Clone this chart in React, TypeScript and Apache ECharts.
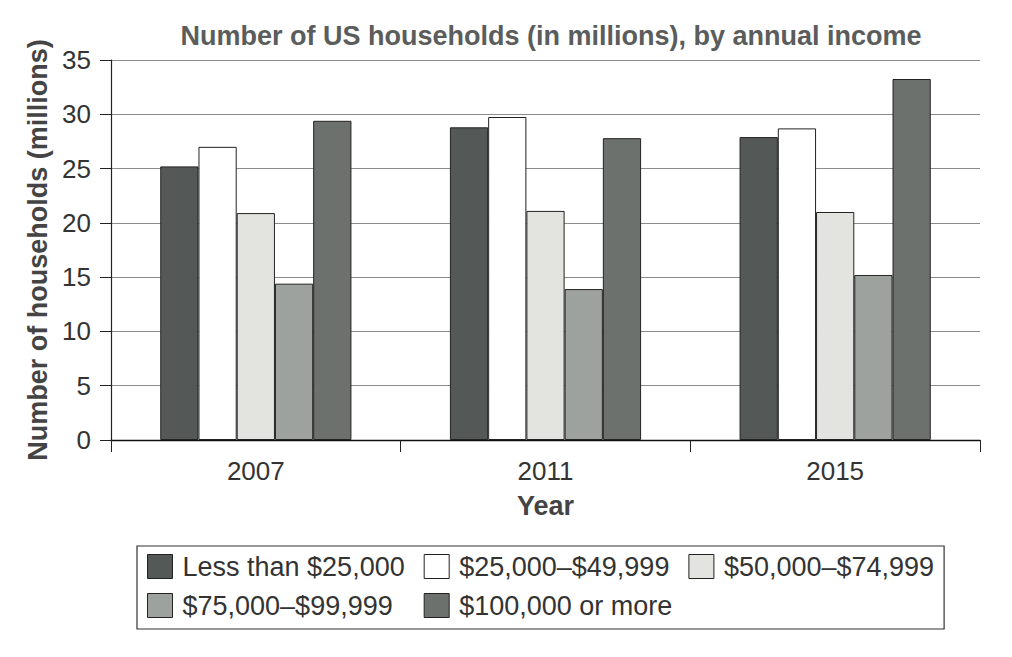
import { useEffect, useRef } from "react";
import * as echarts from "echarts";

const years = ["2007", "2011", "2015"];
const lessThan25k = [25.2, 28.8, 27.9];
const from25kTo50k = [27.0, 29.75, 28.7];
const from50kTo75k = [20.9, 21.1, 21.0];
const from75kTo100k = [14.4, 13.9, 15.2];
const over100k = [29.4, 27.8, 33.25];

const seriesDefs = [
  { name: "Less than $25,000", values: lessThan25k, color: "#545958" },
  { name: "$25,000–$49,999", values: from25kTo50k, color: "#ffffff" },
  { name: "$50,000–$74,999", values: from50kTo75k, color: "#e3e4e0" },
  { name: "$75,000–$99,999", values: from75kTo100k, color: "#9ea29e" },
  { name: "$100,000 or more", values: over100k, color: "#6d716e" },
];

const FONT = "'Liberation Sans', Arial, Helvetica, sans-serif";
const LEGEND_FONT_SIZE = 27;

export default function App() {
  const ref = useRef<HTMLDivElement>(null);

  useEffect(() => {
    if (!ref.current) return;
    const chart = echarts.init(ref.current, undefined, { renderer: "svg" });

    // second legend row lines up with the first row's columns
    const firstColWidth = echarts.format.getTextRect
      ? echarts.format.getTextRect(seriesDefs[0].name, `${LEGEND_FONT_SIZE}px ${FONT}`).width
      : 221;

    chart.setOption({
      animation: false,
      backgroundColor: "#ffffff",
      textStyle: { fontFamily: FONT },
      title: {
        text: "Number of US households (in millions), by annual income",
        left: 546,
        top: 17,
        textAlign: "center",
        textStyle: { fontFamily: FONT, fontSize: 27, fontWeight: "bold", color: "#5a5d5c" },
      },
      grid: { left: 111, right: 32, top: 60, bottom: 217, containLabel: false },
      legend: {
        left: 137,
        top: 546,
        width: 815,
        itemGap: 12,
        itemWidth: 25,
        itemHeight: 24,
        padding: [7, 3, 10, 10],
        borderColor: "#333",
        borderWidth: 1.2,
        icon: "rect",
        textStyle: {
          fontFamily: FONT,
          fontSize: LEGEND_FONT_SIZE,
          lineHeight: 24,
          color: "#333",
          padding: [0, 7, 0, 5],
        },
        itemStyle: { borderColor: "#222", borderWidth: 1 },
        data: seriesDefs.map((s, i) =>
          i === 3 ? { name: s.name, textStyle: { width: firstColWidth } } : { name: s.name }
        ),
      },
      xAxis: {
        type: "category",
        data: years,
        name: "Year",
        nameLocation: "middle",
        nameGap: 52,
        nameTextStyle: { fontFamily: FONT, fontSize: 27, fontWeight: "bold", color: "#444" },
        axisLine: { lineStyle: { color: "#111", width: 1.3 } },
        axisTick: { show: true, length: 12, lineStyle: { color: "#222" } },
        axisLabel: { fontSize: 26, color: "#333", margin: 18, fontFamily: FONT },
      },
      yAxis: {
        type: "value",
        min: 0,
        max: 35,
        interval: 5,
        name: "Number of households (millions)",
        nameLocation: "middle",
        nameGap: 60,
        nameTextStyle: { fontFamily: FONT, fontSize: 27, fontWeight: "bold", color: "#444" },
        axisLine: { show: true, lineStyle: { color: "#222", width: 1.2 } },
        axisTick: { show: true, length: 11, lineStyle: { color: "#222" } },
        axisLabel: { fontSize: 26, color: "#333", margin: 20, fontFamily: FONT },
        splitLine: { lineStyle: { color: "#8a8c8b", width: 1.2 } },
      },
      series: seriesDefs.map((s) => ({
        name: s.name,
        type: "bar",
        data: s.values,
        barGap: "0%",
        barCategoryGap: "34%",
        itemStyle: { color: s.color, borderColor: "#222", borderWidth: 1 },
      })),
    });

    return () => chart.dispose();
  }, []);

  return (
    <div
      ref={ref}
      style={{ position: "absolute", left: 0, top: 0, width: 1012, height: 657 }}
    />
  );
}
